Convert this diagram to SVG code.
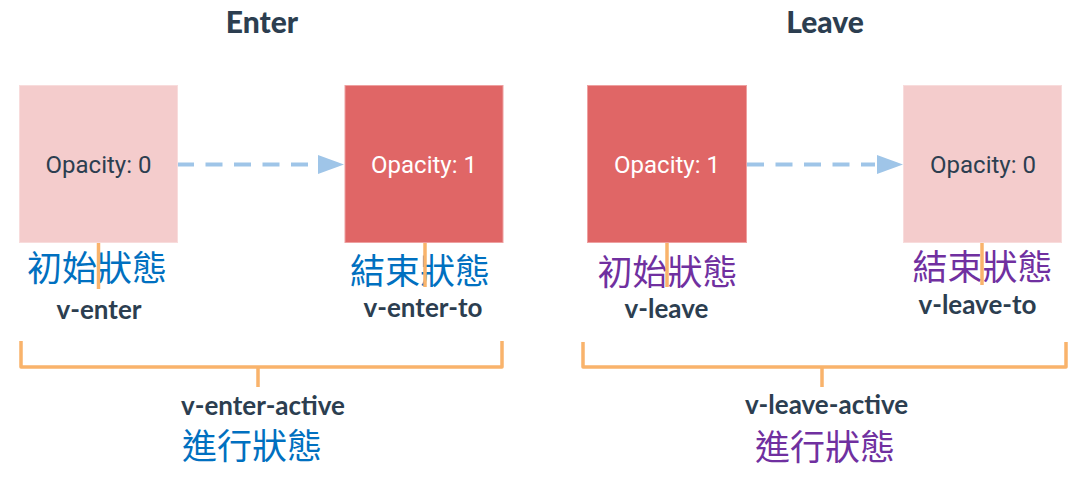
<svg xmlns="http://www.w3.org/2000/svg" width="1088" height="479" viewBox="0 0 1088 479">
<defs>
<style>
.title{font-family:Lato,"Liberation Sans",sans-serif;font-weight:900;font-size:30px;fill:#2c3e50;text-anchor:middle}
.op{font-family:Roboto,"Liberation Sans",sans-serif;font-size:24px;text-anchor:middle}
.cls{font-family:Lato,"Liberation Sans",sans-serif;font-weight:bold;font-size:26px;fill:#2c3e50;text-anchor:middle}
.zh{font-family:"Noto Sans CJK TC","Noto Sans CJK SC",sans-serif;font-size:35px;text-anchor:middle}
.blue{fill:#0070c0}
.purple{fill:#7030a0}
.pink{fill:#f4cccc;stroke:#f8dcdc;stroke-width:1}
.red{fill:#e06666;stroke:#eea0a0;stroke-width:1}
.dash{fill:none;stroke:#9fc5e8;stroke-width:4;stroke-dasharray:17 11.5}
.head{fill:#9fc5e8}
.orange{fill:none;stroke:#f9b36b;stroke-width:3.5;stroke-linejoin:round}
</style>
</defs>
<rect width="1088" height="479" fill="#ffffff"/>
<text class="title" x="262" y="33">Enter</text>
<text class="title" x="825" y="33">Leave</text>

<g id="connectors">
<line class="dash" x1="177" y1="164.5" x2="311" y2="164.5"/>
<polygon class="head" points="318,155 344,164.5 318,174"/>
<line class="dash" x1="747" y1="164.5" x2="875" y2="164.5"/>
<polygon class="head" points="877,155 903,164.5 877,174"/>
<path class="orange" d="M21,341 V367 H502 V341 M258,367 V387"/>
<path class="orange" d="M583,342 V367 H1066 V342 M822,367 V387"/>
</g>

<g id="enter-start">
<rect class="pink" x="19.5" y="85.5" width="158" height="157"/>
<text class="op" x="98.5" y="173" fill="#2c3e50">Opacity: 0</text>
<text class="zh blue" x="97" y="281">初始狀態</text>
<line class="orange" x1="98.5" y1="243" x2="98.5" y2="289"/>
<text class="cls" x="99" y="319">v-enter</text>
</g>

<g id="enter-end">
<rect class="red" x="345" y="85.5" width="158" height="157"/>
<text class="op" x="424" y="173" fill="#ffffff">Opacity: 1</text>
<text class="zh blue" x="420" y="284">結束狀態</text>
<line class="orange" x1="425" y1="243" x2="425" y2="287"/>
<text class="cls" x="423" y="317">v-enter-to</text>
</g>

<g id="enter-active">
<text class="cls" x="263" y="415">v-enter-active</text>
<text class="zh blue" x="252" y="459">進行狀態</text>
</g>

<g id="leave-start">
<rect class="red" x="587.5" y="85.5" width="159" height="157"/>
<text class="op" x="667" y="173" fill="#ffffff">Opacity: 1</text>
<text class="zh purple" x="667.5" y="285">初始狀態</text>
<line class="orange" x1="667" y1="243" x2="667" y2="287"/>
<text class="cls" x="666.5" y="318">v-leave</text>
</g>

<g id="leave-end">
<rect class="pink" x="903.5" y="85.5" width="158" height="157"/>
<text class="op" x="983" y="173" fill="#2c3e50">Opacity: 0</text>
<text class="zh purple" x="982.5" y="280">結束狀態</text>
<line class="orange" x1="982" y1="243" x2="982" y2="285"/>
<text class="cls" x="977.5" y="314">v-leave-to</text>
</g>

<g id="leave-active">
<text class="cls" x="826.5" y="414">v-leave-active</text>
<text class="zh purple" x="825" y="460">進行狀態</text>
</g>
</svg>
